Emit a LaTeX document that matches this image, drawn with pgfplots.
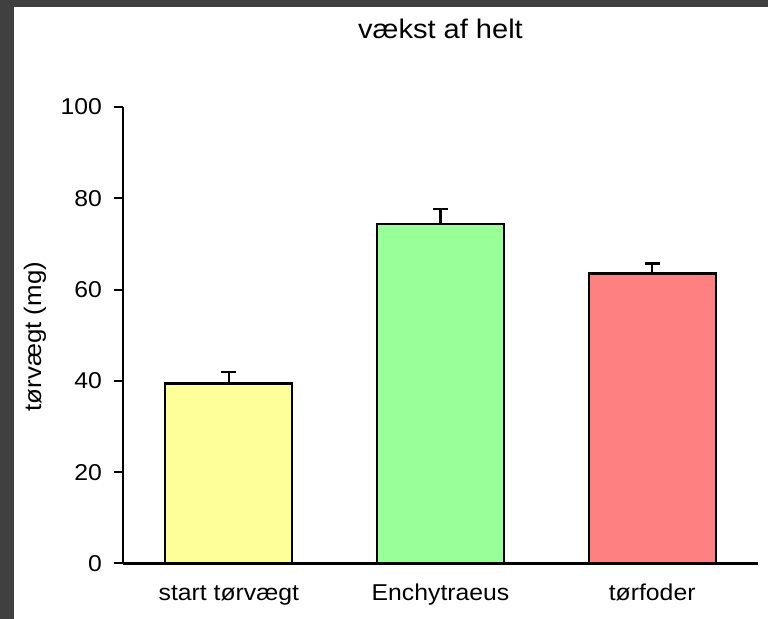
\documentclass[border=0pt]{standalone}
\usepackage{pgfplots}
\pgfplotsset{compat=1.18}
\usepackage{fontspec}
\setmainfont{Liberation Sans}[FakeStretch=1.08]
\definecolor{bgdark}{RGB}{64,64,64}
\definecolor{byellow}{RGB}{255,255,153}
\definecolor{bgreen}{RGB}{153,255,153}
\definecolor{bred}{RGB}{255,128,128}
\begin{document}
\begin{tikzpicture}[x=1bp,y=1bp]
\fill[bgdark] (0,0) rectangle (768,619);
\fill[white] (13.5,0) rectangle (768,611.5);
\begin{axis}[
  at={(123bp,55.5bp)}, anchor=south west,
  scale only axis, width=635bp, height=456.5bp,
  xmin=-0.5, xmax=2.5, ymin=0, ymax=100,
  axis x line*=bottom, axis y line*=left,
  axis line style={line width=2.6bp, -},
  xtick={0,1,2}, xticklabels={start tørvægt, Enchytraeus, tørfoder},
  ytick={0,20,...,100},
  tick align=outside,
  major tick length=9bp,
  ytick style={line width=2bp, black},
  xtick style={draw=none},
  /pgf/number format/assume math mode=true,
  ticklabel style={font=\fontsize{23}{27}\selectfont},
  yticklabel style={inner sep=0pt, anchor=east, xshift=-12bp},
  xticklabel style={inner sep=0pt, anchor=base, yshift=-28bp},
  title={vækst af helt},
  title style={font=\fontsize{27}{31}\selectfont, at={(rel axis cs:0.5,1.136)}, anchor=base},
  ylabel={tørvægt (mg)},
  ylabel style={font=\fontsize{24}{28}\selectfont, at={(rel axis cs:-0.1386,0.497)}, anchor=center},
  every axis plot/.append style={ybar, bar width=0.6, bar shift=0pt, draw=black, line width=2.3bp,
    error bars/y dir=plus, error bars/y explicit,
    error bars/error bar style={line width=2.2bp, black},
    error bars/error mark options={rotate=90, line width=2.2bp, mark size=7.5bp, black}},
]
\addplot[fill=byellow] coordinates {(0,39.4) +- (0,2.5)};
\addplot[fill=bgreen] coordinates {(1,74.4) +- (0,3.3)};
\addplot[fill=bred] coordinates {(2,63.5) +- (0,2.2)};
\end{axis}
\end{tikzpicture}
\end{document}
